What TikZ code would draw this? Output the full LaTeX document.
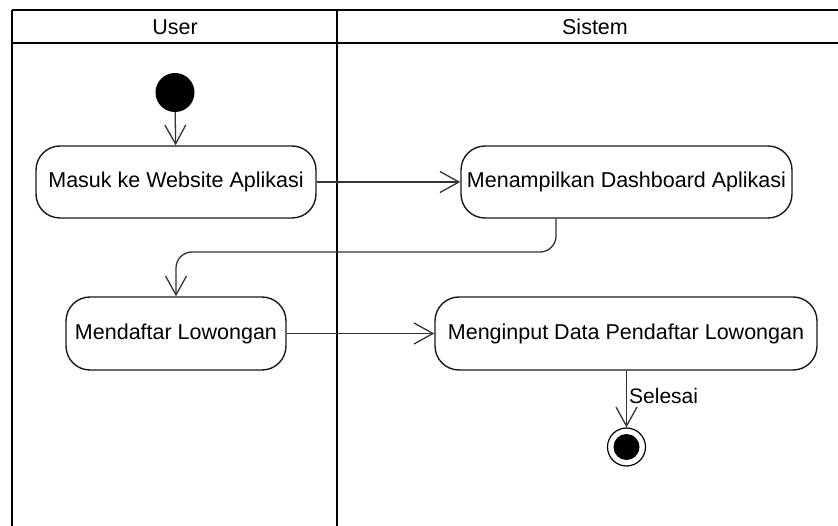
\documentclass[tikz,border=0pt]{standalone}
\usepackage{fontspec}
\setmainfont{Liberation Sans}
\usetikzlibrary{arrows.meta}

\begin{document}
\begin{tikzpicture}[x=1pt,y=-1pt,
  lane/.style={line width=2.6pt, black},
  activity/.style={draw=black!90, line width=1.4pt, rounded corners=24pt,
    rectangle, inner sep=0pt, font=\fontsize{21.5}{26}\selectfont},
  flow/.style={draw=black!80, line width=1.3pt,
    -{Straight Barb[length=19pt,width=21pt]}},
  lanetitle/.style={font=\fontsize{21.5}{26}\selectfont, inner sep=0pt}
]
\useasboundingbox (0,0) rectangle (838,526);

% swimlane frame
\begin{scope}
\clip (0,0) rectangle (838,526);
\draw[lane] (12,10) -- (870,10);
\draw[lane] (12,43) -- (870,43);
\draw[lane] (12,10) -- (12,560);
\draw[lane] (337,10) -- (337,560);
\end{scope}
\node[lanetitle] (userlane) at (175,27) {User};
\node[lanetitle] (sistemlane) at (595,27) {Sistem};

% activity nodes
\node[circle, fill=black, minimum size=39pt, inner sep=0pt] (start) at (175,92.5) {};
\node[activity, minimum width=280pt, minimum height=72pt] (masuk) at (176,182) {Masuk ke Website Aplikasi};
\node[activity, minimum width=331pt, minimum height=72pt] (dash) at (626.5,182) {Menampilkan Dashboard Aplikasi};
\node[activity, minimum width=220pt, minimum height=73pt] (daftar) at (176,333.5) {Mendaftar Lowongan};
\node[activity, minimum width=382pt, minimum height=73pt] (input) at (626,333.5) {Menginput Data Pendaftar Lowongan};

% final node: ring with filled centre
\node[circle, draw=black, line width=1.2pt, minimum size=38pt, inner sep=0pt] (final) at (626.5,447) {};
\fill[black] (final.center) circle (13pt);

% control flow
\draw[flow] (start) -- (masuk);
\draw[flow] (masuk.east) -- (dash.west);
\draw[flow, rounded corners=16pt] (dash.south -| 556,0) -- (556,252) -- (176,252) -- (daftar.north);
\draw[flow] (daftar.east) -- (input.west);
\draw[flow] (input.south -| final.north) -- (final.north)
  node[pos=0.45, anchor=west, xshift=2pt, inner sep=0pt, font=\fontsize{21}{25}\selectfont] (selesai) {Selesai};
\end{tikzpicture}
\end{document}
